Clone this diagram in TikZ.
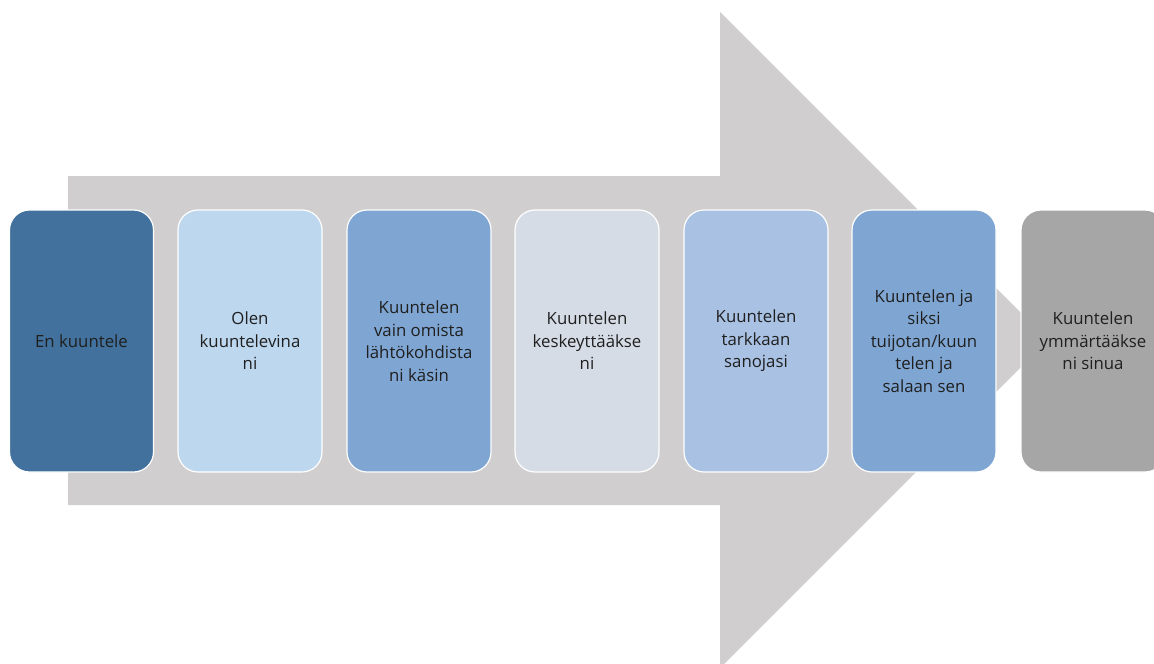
\documentclass[tikz,border=0pt]{standalone}
\usepackage{fontspec}
\setmainfont{Open Sans}
\begin{document}
\begin{tikzpicture}[x=1pt,y=-1pt,
  stepbox/.style={draw=white, line width=1.2pt, rounded corners=20pt,
    minimum width=144pt, minimum height=262pt, inner sep=0pt,
    align=center, text=black!88, font=\fontsize{16.8}{22.5}\selectfont, anchor=center},
  flow/.style={fill=arrowgray, draw=none}]
\definecolor{arrowgray}{HTML}{D0CECE}
\definecolor{cA}{HTML}{41719C}
\definecolor{cB}{HTML}{BDD7EE}
\definecolor{cC}{HTML}{7FA6D3}
\definecolor{cD}{HTML}{D6DCE5}
\definecolor{cE}{HTML}{A9C1E3}
\definecolor{cF}{HTML}{7FA6D3}
\definecolor{cG}{HTML}{A6A6A6}
\useasboundingbox (0,0) rectangle (1154,664);
\clip (0,0) rectangle (1154,664);
% big background arrow
\fill[flow] (68,176) -- (720,176) -- (720,12) -- (1048,340) -- (720,668)
  -- (720,505) -- (68,505) -- cycle;
% stages
\node[stepbox, fill=cA] (s1) at (81.5,341) {En kuuntele};
\node[stepbox, fill=cB] (s2) at (250,341) {Olen\\kuuntelevina\\ni};
\node[stepbox, fill=cC] (s3) at (419,341) {Kuuntelen\\vain omista\\lähtökohdista\\ni käsin};
\node[stepbox, fill=cD] (s4) at (587,341) {Kuuntelen\\keskeyttääkse\\ni};
\node[stepbox, fill=cE] (s5) at (756,341) {Kuuntelen\\tarkkaan\\sanojasi};
\node[stepbox, fill=cF] (s6) at (924,341) {Kuuntelen ja\\siksi\\tuijotan/kuun\\telen ja\\salaan sen};
\node[stepbox, fill=cG] (s7) at (1093,341) {Kuuntelen\\ymmärtääkse\\ni sinua};
\end{tikzpicture}
\end{document}
